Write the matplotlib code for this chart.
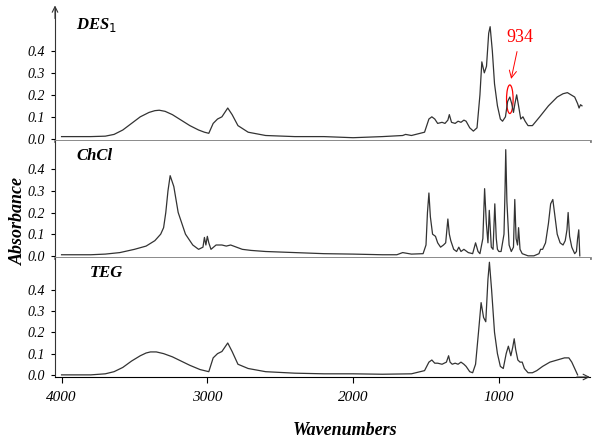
import matplotlib.pyplot as plt
from matplotlib.patches import Ellipse

# ---- data (wavenumber cm-1, absorbance) ----
des_x = [4000, 3800, 3700, 3640, 3580, 3520, 3460, 3400, 3360, 3330, 3290, 3240, 3180,
         3120, 3060, 3020, 2990, 2960, 2930,
         2900, 2880, 2860, 2830, 2790, 2720, 2600, 2400, 2200, 2000, 1800, 1660, 1640,
         1600, 1510, 1480, 1460, 1440, 1420, 1390, 1370, 1350, 1340, 1325, 1300, 1280,
         1260, 1240, 1225, 1200, 1175, 1150, 1130, 1117, 1100, 1085, 1070, 1060, 1045,
         1030, 1010, 990, 975, 955, 940, 925, 912, 900, 890, 878, 865, 850, 835, 820,
         800, 770, 720, 660, 600, 560, 530, 505, 480, 460, 450, 440, 430]
des_y = [0.01, 0.01, 0.012, 0.02, 0.04, 0.07, 0.10, 0.12, 0.128, 0.13, 0.125, 0.11, 0.085,
         0.06, 0.04, 0.03, 0.025, 0.07, 0.09,
         0.10, 0.12, 0.14, 0.11, 0.06, 0.03, 0.015, 0.01, 0.01, 0.005, 0.01, 0.015, 0.02,
         0.015, 0.03, 0.09, 0.10, 0.09, 0.07, 0.075, 0.07, 0.085, 0.11, 0.075, 0.07, 0.08,
         0.075, 0.085, 0.08, 0.05, 0.035, 0.05, 0.20, 0.35, 0.30, 0.33, 0.48, 0.51, 0.40,
         0.25, 0.15, 0.09, 0.08, 0.10, 0.17, 0.19, 0.16, 0.12, 0.16, 0.20, 0.15, 0.09,
         0.10, 0.08, 0.06, 0.06, 0.10, 0.15, 0.19, 0.205, 0.21, 0.20, 0.19, 0.16, 0.14,
         0.155, 0.15]

chcl_x = [4000, 3800, 3700, 3600, 3500, 3420, 3360, 3320, 3300, 3285, 3270, 3255, 3230,
          3200, 3150, 3100, 3060, 3030, 3020, 3010, 3000, 2990, 2975, 2940, 2900, 2870,
          2840, 2800, 2760, 2700, 2600, 2400, 2200, 2000, 1800, 1700, 1660, 1600, 1520,
          1500, 1490, 1480, 1470, 1455, 1435, 1420, 1400, 1380, 1365, 1350, 1340, 1330,
          1310, 1290, 1275, 1260, 1240, 1210, 1180, 1160, 1143, 1130, 1110, 1098, 1086,
          1075, 1066, 1052, 1040, 1028, 1018, 1010, 1000, 985, 965, 958, 953, 945, 930,
          915, 900, 891, 882, 872, 865, 855, 840, 800, 760, 725, 714, 700, 680, 660, 645,
          630, 615, 600, 580, 560, 545, 533, 525, 515, 500, 480, 468, 460, 452, 445]
chcl_y = [0.005, 0.005, 0.008, 0.015, 0.03, 0.045, 0.07, 0.10, 0.13, 0.20, 0.30, 0.37,
          0.32, 0.20, 0.10, 0.05, 0.03, 0.04, 0.085, 0.05, 0.09, 0.06, 0.03, 0.05, 0.05,
          0.045, 0.05, 0.04, 0.03, 0.025, 0.02, 0.015, 0.01, 0.008, 0.005, 0.005, 0.015,
          0.008, 0.01, 0.05, 0.20, 0.29, 0.18, 0.10, 0.09, 0.06, 0.04, 0.05, 0.06, 0.17,
          0.10, 0.07, 0.03, 0.02, 0.04, 0.02, 0.03, 0.015, 0.01, 0.06, 0.02, 0.01, 0.08,
          0.31, 0.15, 0.06, 0.21, 0.04, 0.03, 0.24, 0.08, 0.03, 0.02, 0.02, 0.10, 0.30, 0.49,
          0.25, 0.05, 0.02, 0.04, 0.26, 0.08, 0.05, 0.13, 0.03, 0.01, 0.0, 0.0, 0.01, 0.03,
          0.03, 0.06, 0.15, 0.24, 0.26, 0.18, 0.10, 0.06, 0.05, 0.07, 0.12, 0.20, 0.09, 0.04,
          0.01, 0.02, 0.08, 0.12, 0.0]

teg_x = [4000, 3800, 3700, 3640, 3580, 3520, 3460, 3420, 3390, 3350, 3300, 3240, 3180,
         3120, 3050, 2990, 2960,
         2930, 2900, 2880, 2860, 2830, 2790, 2720, 2600, 2400, 2200, 2000, 1800, 1600,
         1510, 1480, 1460, 1440, 1420, 1390, 1360, 1345, 1335, 1320, 1300, 1280, 1260,
         1240, 1225, 1200, 1180, 1160, 1140, 1122, 1105, 1090, 1075, 1065, 1050, 1030,
         1010, 990, 970, 950, 935, 918, 905, 895, 885, 870, 855, 840, 825, 800, 770, 740,
         700, 650, 600, 550, 520, 500, 480, 460]
teg_y = [0.0, 0.0, 0.005, 0.015, 0.035, 0.065, 0.09, 0.103, 0.108, 0.108, 0.10, 0.085,
         0.065, 0.045, 0.025, 0.015, 0.08,
         0.10, 0.11, 0.13, 0.15, 0.11, 0.05, 0.03, 0.015, 0.008, 0.005, 0.005, 0.003,
         0.005, 0.02, 0.06, 0.07, 0.055, 0.055, 0.05, 0.06, 0.09, 0.06, 0.05, 0.055, 0.05,
         0.06, 0.05, 0.04, 0.015, 0.01, 0.05, 0.20, 0.34, 0.27, 0.25, 0.45, 0.53, 0.40,
         0.20, 0.10, 0.04, 0.03, 0.10, 0.135, 0.09, 0.13, 0.17, 0.12, 0.07, 0.06, 0.06,
         0.03, 0.01, 0.01, 0.02, 0.04, 0.06, 0.07, 0.08, 0.08, 0.06, 0.03, 0.0]

panel_names = ["DES$_1$", "ChCl", "TEG"]
yticks = [0.0, 0.1, 0.2, 0.3, 0.4]
xticks = [4000, 3000, 2000, 1000]

plt.rcParams["font.family"] = "Liberation Serif"

fig = plt.figure(figsize=(6.0, 4.42), dpi=100)
bounds = [(8, 141), (141, 258), (258, 377)]
tops = [0.595, 0.53, 0.55]
series = [(des_x, des_y), (chcl_x, chcl_y), (teg_x, teg_y)]
axes = []
for i, ((t, b), (xs, ys)) in enumerate(zip(bounds, series)):
    ax = fig.add_axes([55 / 600, 1 - b / 442, 535 / 600, (b - t) / 442])
    ax.plot(xs, ys, color="#333333", lw=0.9)
    ax.set_xlim(4045, 375)
    ax.set_ylim(-0.01, tops[i])
    ax.set_yticks(yticks)
    ax.set_yticklabels([f"{v:.1f}" for v in yticks], fontsize=10, style="italic")
    ax.tick_params(axis="y", length=3, width=0.8, pad=4)
    for s in ["top", "right"]:
        ax.spines[s].set_visible(False)
    ax.spines["left"].set_color("#333333")
    if i < 2:
        ax.spines["bottom"].set_color("#808080")
        ax.spines["bottom"].set_linewidth(2)
        ax.set_xticks([])
    else:
        ax.set_xticks(xticks)
        ax.set_xticklabels([str(v) for v in xticks], fontsize=11, style="italic")
        ax.tick_params(axis="x", length=4, width=0.8, pad=6)
        ax.annotate("", xy=(1.005, 0), xycoords="axes fraction", xytext=(0.97, 0),
                    arrowprops=dict(arrowstyle="->", lw=0.8, color="#333333"))
    ax.text(0.04 if i < 2 else 0.065, 0.84, panel_names[i], transform=ax.transAxes,
            fontsize=12, fontweight="bold", style="italic")
    axes.append(ax)

axes[0].annotate("", xy=(0, 1.04), xycoords="axes fraction", xytext=(0, 0.9),
                 arrowprops=dict(arrowstyle="->", lw=0.8, color="#333333"))

# red highlight around 934 band
ax = axes[0]
ax.add_patch(Ellipse((925, 0.18), 45, 0.13, fill=False, edgecolor="red", lw=0.9))
ax.annotate("934", xy=(920, 0.26), xytext=(855, 0.44), color="red", fontsize=13,
            ha="center", arrowprops=dict(arrowstyle="->", color="red", lw=0.7))

fig.text(0.03, 0.5, "Absorbance", rotation=90, ha="center", va="center",
         fontsize=13, fontweight="bold", style="italic")
fig.text(0.575, 0.025, "Wavenumbers", ha="center", va="center",
         fontsize=13, fontweight="bold", style="italic")

fig.savefig("out.png", dpi=100)
